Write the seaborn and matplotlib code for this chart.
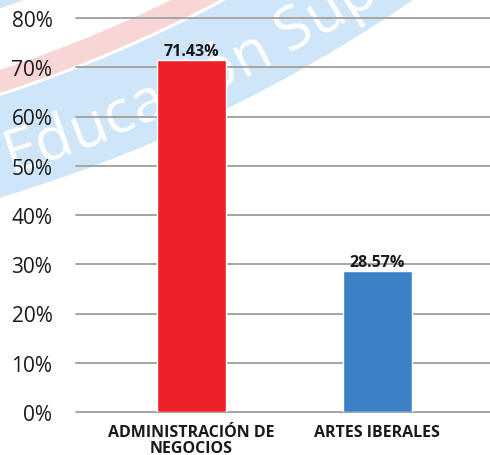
import numpy as np
import pandas as pd
import seaborn as sns
import matplotlib
matplotlib.use("Agg")
import matplotlib.pyplot as plt
from matplotlib.patches import Circle, Wedge
from matplotlib.font_manager import FontProperties
from matplotlib.textpath import TextToPath

# ---- data ----
categories = ["ADMINISTRACIÓN DE\nNEGOCIOS", "ARTES IBERALES"]
values = [71.43, 28.57]
bar_colors = ["#ED2129", "#3A82C5"]
y_ticks = [0, 10, 20, 30, 40, 50, 60, 70, 80]
watermark = "Educación Sup"

sns.set_theme(style="white")
plt.rcParams["font.family"] = ["Lato", "DejaVu Sans"]

W, H = 490, 456
fig = plt.figure(figsize=(W / 100, H / 100), dpi=100)
fig.patch.set_facecolor("white")

# ---- watermark background (pixel coords -> inches) ----
tr = fig.dpi_scale_trans
cx, cy = -430 / 100, (H + 1230) / 100
blue_wm = "#CFE6F9"
pink_wm = "#F9D6D6"
fig.add_artist(Wedge((cx, cy), 14.92, 0, 360, width=14.92 - 13.95,
                     transform=tr, facecolor=blue_wm, edgecolor="none", zorder=-10))
fig.add_artist(Wedge((cx, cy), 13.92, 0, 360, width=0.22,
                     transform=tr, facecolor=pink_wm, edgecolor="none", zorder=-10))
fig.add_artist(Circle((cx, cy), 13.12, transform=tr, facecolor=blue_wm,
                      edgecolor="none", zorder=-10))

fp = FontProperties(family="Open Sans", size=43)
t2p = TextToPath()
r_txt = 1447.0
phi0 = np.deg2rad(-72.6)
for i, ch in enumerate(watermark):
    pre_w = t2p.get_text_width_height_descent(watermark[:i], fp, ismath=False)[0] if i else 0.0
    ch_w = t2p.get_text_width_height_descent(ch, fp, ismath=False)[0] if ch != " " else 0.0
    s = (pre_w + ch_w / 2) * 100 / 72
    phi = phi0 + s / r_txt
    x = cx + r_txt / 100 * np.cos(phi)
    y = cy + r_txt / 100 * np.sin(phi)
    if ch.strip():
        fig.text(x, y, ch, transform=tr, fontproperties=fp, color="white",
                 rotation=np.rad2deg(phi) + 90, rotation_mode="anchor",
                 ha="center", va="center_baseline", zorder=-9)

# ---- chart ----
ax = fig.add_axes([76 / W, 43 / H, (W - 76) / W, (413 - 19) / H])
ax.patch.set_alpha(0)

df = pd.DataFrame({"cat": categories, "val": values})
sns.barplot(data=df, x="cat", y="val", hue="cat", palette=bar_colors,
            width=0.37, legend=False, ax=ax, zorder=3, saturation=1)

for cont, v in zip(ax.containers, values):
    ax.bar_label(cont, labels=[f"{v:.2f}%"], padding=1, fontsize=11.5,
                 fontweight="bold", color="#1a1a1a", family="Open Sans")

ax.set_ylim(0, 80)
ax.set_xlim(-0.62, 1.605)
ax.set_yticks(y_ticks)
ax.set_yticklabels([f"{t}%" for t in y_ticks])
ax.yaxis.grid(True, color="#A5A5A5", linewidth=1.4, zorder=1)
for gl in ax.get_ygridlines():
    gl.set_clip_on(False)
ax.set_axisbelow(True)
for sp in ax.spines.values():
    sp.set_visible(False)
ax.tick_params(axis="y", length=0, pad=17, labelsize=15, labelcolor="#1a1a1a")
ax.tick_params(axis="x", length=0, pad=9, labelsize=11.5, labelcolor="#1a1a1a")
for lab in ax.get_xticklabels():
    lab.set_fontweight("bold")
    lab.set_family("Open Sans")
    lab.set_linespacing(0.95)
for lab in ax.get_yticklabels():
    lab.set_family("Open Sans")
ax.set_xlabel("")
ax.set_ylabel("")

fig.savefig("out.png", dpi=100)
